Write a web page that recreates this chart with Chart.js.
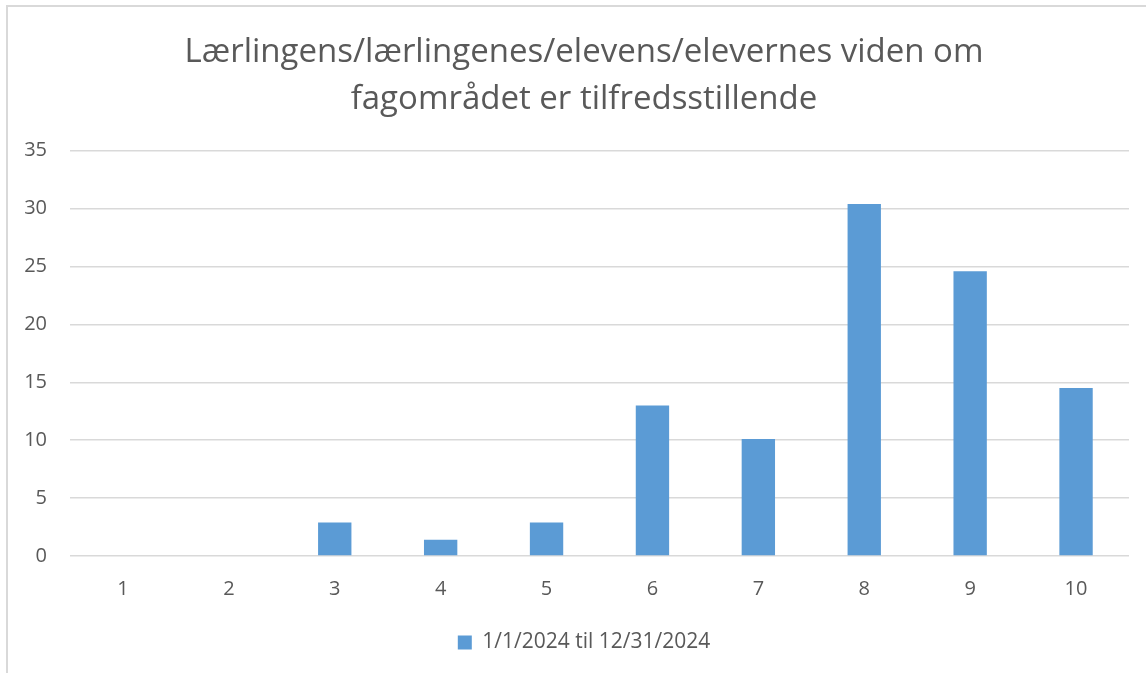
<!DOCTYPE html>
<html>
<head>
<meta charset="utf-8">
<script src="https://cdn.jsdelivr.net/npm/chart.js@4"></script>
<style>
    html, body { margin: 0; padding: 0; background: #ffffff; overflow: hidden; }
    .frame {
        position: absolute;
        left: 6px;
        top: 5px;
        width: 1200px;
        height: 720px;
        border: 2px solid #d9d9d9;
        box-sizing: border-box;
    }
    .wrap { position: absolute; left: 0; top: 0; width: 1168px; height: 673px; }
</style>
</head>
<body>
<div class="frame"></div>
<div class="wrap"><canvas id="barChart"></canvas></div>
<script>
// Chart data
const categories = ['1', '2', '3', '4', '5', '6', '7', '8', '9', '10'];
const seriesLabel = '1/1/2024 til 12/31/2024';
const seriesValues = [0, 0, 2.9, 1.4, 2.9, 13.0, 10.1, 30.4, 24.6, 14.5];
const titleLines = ['Lærlingens/lærlingenes/elevens/elevernes viden om', 'fagområdet er tilfredsstillende'];
const yTicks = [0, 5, 10, 15, 20, 25, 30, 35];

const textColor = '#595959';
const fontFamily = '"Open Sans", Lato, sans-serif';

const canvas = document.getElementById('barChart');
new Chart(canvas.getContext('2d'), {
    type: 'bar',
    data: {
        labels: categories,
        datasets: [{
            label: seriesLabel,
            data: seriesValues,
            backgroundColor: '#5b9bd5',
            borderWidth: 0,
            barPercentage: 1.0,
            categoryPercentage: 0.315
        }]
    },
    options: {
        responsive: true,
        maintainAspectRatio: false,
        animation: false,
        layout: {
            padding: { left: 0, right: 0, top: 0, bottom: 10 }
        },
        scales: {
            x: {
                grid: { display: false, drawTicks: false },
                border: { display: false },
                ticks: {
                    color: textColor,
                    padding: 21,
                    font: { family: fontFamily, size: 20 }
                },
                afterFit: (scale) => { scale.height = 66; }
            },
            y: {
                min: 0,
                max: 35,
                afterBuildTicks: (scale) => {
                    scale.ticks = yTicks.map(v => ({ value: v }));
                },
                grid: { color: '#d9d9d9', lineWidth: 1.5, drawTicks: false },
                border: { display: false },
                ticks: {
                    color: textColor,
                    padding: 23,
                    font: { family: fontFamily, size: 20 }
                },
                afterFit: (scale) => { scale.width = 70; }
            },
            // empty right-hand spacer so the title and legend centre like the original
            spacer: {
                type: 'linear',
                position: 'right',
                min: 0,
                max: 1,
                grid: { display: false, drawTicks: false },
                border: { display: false },
                ticks: { display: false },
                afterFit: (scale) => { scale.width = 39; }
            }
        },
        plugins: {
            title: {
                display: true,
                text: titleLines,
                color: textColor,
                font: { family: fontFamily, size: 33, weight: 'normal', lineHeight: 1.42 },
                padding: { top: 29, bottom: 28 }
            },
            legend: {
                position: 'bottom',
                labels: {
                    color: textColor,
                    boxWidth: 14,
                    boxHeight: 14,
                    padding: 10,
                    font: { family: fontFamily, size: 21 }
                }
            },
            tooltip: { enabled: false }
        }
    }
});
</script>
</body>
</html>
